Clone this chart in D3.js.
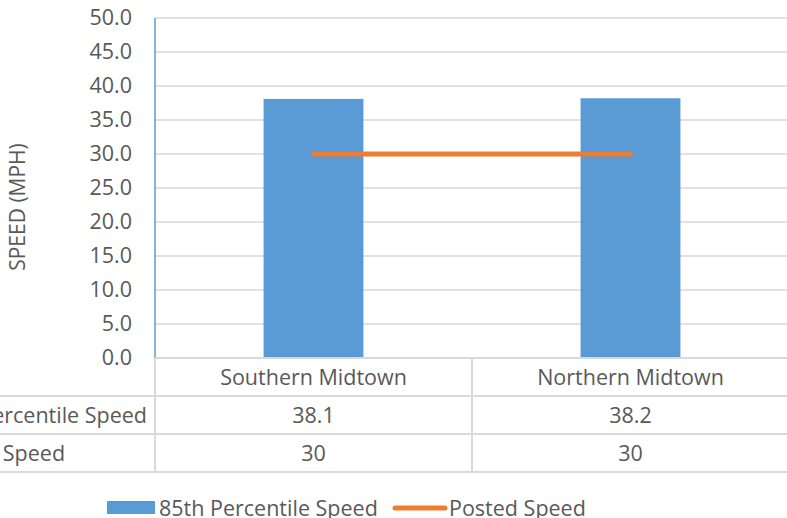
<!DOCTYPE html>
<html>
<head>
<meta charset="utf-8">
<script src="https://cdn.jsdelivr.net/npm/d3@7"></script>
<style>
  html, body { margin: 0; padding: 0; background: #fff; overflow: hidden; }
  svg text { font-family: "Open Sans", "Noto Sans", sans-serif; fill: #595959; }
</style>
</head>
<body>
<svg id="chart" width="787" height="518"></svg>
<script>
// Chart data
const categories = ["Southern Midtown", "Northern Midtown"];
const percentile85 = [38.1, 38.2];
const postedSpeed = [30, 30];
const yTicks = [0, 5, 10, 15, 20, 25, 30, 35, 40, 45, 50];
const seriesNames = ["85th Percentile Speed", "Posted Speed"];
const tableValues = [["38.1", "38.2"], ["30", "30"]];

const svg = d3.select("#chart");
const blue = "#5B9BD5", orange = "#ED7D31", grid = "#D9D9D9";
const fs = 21.5;

const plotLeft = 155, catWidth = 317;
const x = d3.scaleBand().domain(categories)
  .range([plotLeft, plotLeft + catWidth * categories.length])
  .paddingInner(0).paddingOuter(0);
const y = d3.scaleLinear().domain([0, 50]).range([358, 18]);

// Horizontal gridlines
svg.append("g").selectAll("line").data(yTicks.filter(d => d > 0)).join("line")
  .attr("x1", plotLeft).attr("x2", 800)
  .attr("y1", d => y(d)).attr("y2", d => y(d))
  .attr("stroke", grid).attr("stroke-width", 1.3);

// Y axis tick labels
const yAxis = d3.axisLeft(y).tickValues(yTicks).tickFormat(d3.format(".1f")).tickSize(0).tickPadding(0);
const ya = svg.append("g").attr("transform", "translate(132,0)").call(yAxis);
ya.attr("font-size", null).attr("font-family", null);
ya.select(".domain").remove();
ya.selectAll("text").attr("font-size", fs).attr("fill", "#595959")
  .style("font-family", "'Open Sans', sans-serif");

// Y axis title
svg.append("text")
  .attr("transform", "translate(25,207) rotate(-90)")
  .attr("text-anchor", "middle").attr("font-size", 21)
  .text("SPEED (MPH)");

// Bars
const barW = x.bandwidth() * 0.315;
svg.append("g").selectAll("rect").data(categories).join("rect")
  .attr("x", d => x(d) + x.bandwidth() / 2 - barW / 2)
  .attr("width", barW)
  .attr("y", (d, i) => y(percentile85[i]))
  .attr("height", (d, i) => y(0) - y(percentile85[i]))
  .attr("fill", blue);

// Posted speed line
const line = d3.line().x((d, i) => x(categories[i]) + x.bandwidth() / 2).y(d => y(d));
svg.append("path").datum(postedSpeed).attr("d", line)
  .attr("fill", "none").attr("stroke", orange).attr("stroke-width", 5)
  .attr("stroke-linecap", "round");

// Vertical axis line
svg.append("line").attr("x1", plotLeft).attr("x2", plotLeft)
  .attr("y1", y(50)).attr("y2", y(0))
  .attr("stroke", blue).attr("stroke-width", 1.5);

// Data table
const rowY = [358, 396, 434, 472];
const tbl = svg.append("g");
tbl.append("line").attr("x1", plotLeft).attr("x2", 800).attr("y1", rowY[0]).attr("y2", rowY[0])
  .attr("stroke", grid).attr("stroke-width", 2);
tbl.selectAll("line.h").data(rowY.slice(1)).join("line").attr("class", "h")
  .attr("x1", 0).attr("x2", 800).attr("y1", d => d).attr("y2", d => d)
  .attr("stroke", grid).attr("stroke-width", 2);
const vx = [plotLeft].concat(categories.slice(1).map(c => x(c)));
tbl.selectAll("line.v").data(vx).join("line").attr("class", "v")
  .attr("x1", d => d).attr("x2", d => d).attr("y1", rowY[0]).attr("y2", rowY[3])
  .attr("stroke", grid).attr("stroke-width", 2);

// Category labels
tbl.selectAll("text.cat").data(categories).join("text").attr("class", "cat")
  .attr("x", d => x(d) + x.bandwidth() / 2).attr("y", (rowY[0] + rowY[1]) / 2)
  .attr("dy", "0.35em").attr("text-anchor", "middle").attr("font-size", fs)
  .text(d => d);

// Series rows: headers are left-aligned in a column that ends just left of the plot
let headerLeft = 0;
seriesNames.forEach((name, r) => {
  const cy = (rowY[r + 1] + rowY[r + 2]) / 2;
  const t = tbl.append("text").attr("class", "rowhead").attr("y", cy).attr("dy", "0.35em")
    .attr("font-size", fs).text(name);
  if (r === 0) headerLeft = plotLeft - 8 - t.node().getComputedTextLength();
  t.attr("x", headerLeft);
  tbl.selectAll(null).data(categories).join("text")
    .attr("x", d => x(d) + x.bandwidth() / 2).attr("y", cy).attr("dy", "0.35em")
    .attr("text-anchor", "middle").attr("font-size", fs)
    .text((d, i) => tableValues[r][i]);
});

// Legend
const lg = svg.append("g");
lg.append("rect").attr("x", 107).attr("y", 501).attr("width", 48).attr("height", 13).attr("fill", blue);
lg.append("text").attr("x", 159).attr("y", 508).attr("dy", "0.35em").attr("font-size", fs).text(seriesNames[0]);
lg.append("line").attr("x1", 395).attr("x2", 445).attr("y1", 508).attr("y2", 508)
  .attr("stroke", orange).attr("stroke-width", 5).attr("stroke-linecap", "round");
lg.append("text").attr("x", 449).attr("y", 508).attr("dy", "0.35em").attr("font-size", fs).text(seriesNames[1]);
</script>
</body>
</html>
